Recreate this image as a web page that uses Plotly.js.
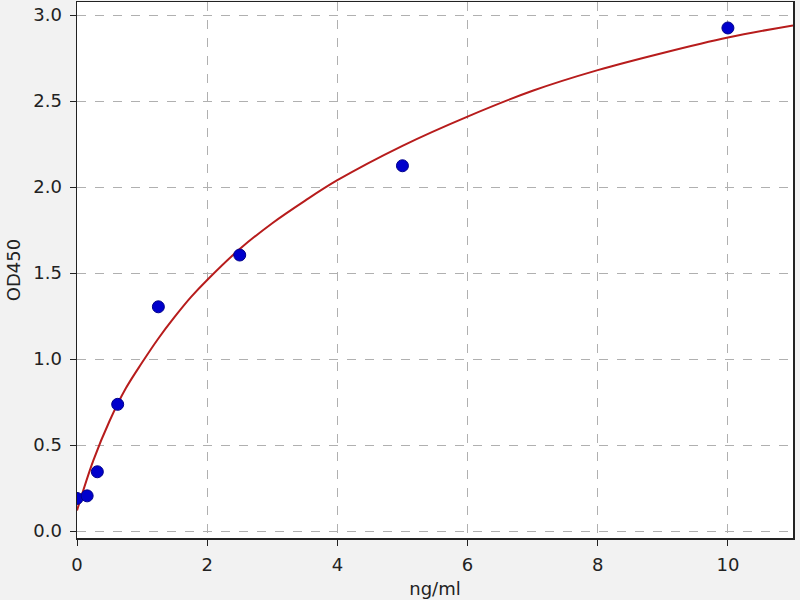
<!DOCTYPE html>
<html>
<head>
<meta charset="utf-8">
<script src="https://cdn.plot.ly/plotly-3.0.1.min.js"></script>
<style>
  html, body { margin: 0; padding: 0; background: #f2f2f2; }
  #chart { width: 800px; height: 600px; }
</style>
</head>
<body>
<div id="chart"></div>
<script>
// standard points (concentration vs OD)
var conc = [0, 0.156, 0.3125, 0.625, 1.25, 2.5, 5, 10];
var od = [0.19, 0.205, 0.345, 0.737, 1.304, 1.605, 2.124, 2.925];

// fitted curve
var fitX = [0, 0.25, 0.5, 0.75, 1, 1.25, 1.5, 1.75, 2, 2.5, 3, 3.5, 4, 5, 6, 7, 8, 9, 10, 11];
var fitY = [0.12, 0.41, 0.64, 0.83, 0.98, 1.12, 1.245, 1.36, 1.46, 1.64, 1.79, 1.92, 2.04, 2.24, 2.41, 2.56, 2.68, 2.78, 2.87, 2.94];

var curve = {
  x: fitX,
  y: fitY,
  mode: 'lines',
  type: 'scatter',
  line: {color: '#b71c1c', width: 2, shape: 'spline', smoothing: 1},
  hoverinfo: 'skip'
};
var points = {
  x: conc,
  y: od,
  mode: 'markers',
  type: 'scatter',
  cliponaxis: true,
  marker: {color: '#0000cc', size: 12, line: {color: '#00008b', width: 1}}
};

var axisFont = {family: 'DejaVu Sans, sans-serif', size: 18, color: '#222'};

var layout = {
  width: 800,
  height: 600,
  showlegend: false,
  paper_bgcolor: '#f2f2f2',
  plot_bgcolor: '#ffffff',
  margin: {l: 77, r: 7, t: 2, b: 62},
  font: axisFont,
  xaxis: {
    range: [0, 11],
    tickvals: [0, 2, 4, 6, 8, 10],
    ticks: 'outside',
    ticklen: 6,
    tickcolor: '#222',
    ticklabelstandoff: 4,
    showline: true,
    linecolor: '#222',
    linewidth: 1.5,
    mirror: true,
    showgrid: true,
    gridcolor: '#b0b0b0',
    griddash: 'dash',
    gridwidth: 1,
    zeroline: false,
    tickfont: axisFont,
    title: {text: 'ng/ml', font: axisFont, standoff: 8}
  },
  yaxis: {
    range: [-0.04, 3.076],
    tickvals: [0, 0.5, 1, 1.5, 2, 2.5, 3],
    ticktext: ['0.0', '0.5', '1.0', '1.5', '2.0', '2.5', '3.0'],
    ticks: 'outside',
    ticklen: 6,
    tickcolor: '#222',
    ticklabelstandoff: 4,
    showline: true,
    linecolor: '#222',
    linewidth: 1.5,
    mirror: true,
    showgrid: true,
    gridcolor: '#b0b0b0',
    griddash: 'dash',
    gridwidth: 1,
    zeroline: false,
    tickfont: axisFont,
    title: {text: 'OD450', font: axisFont, standoff: 8}
  }
};

Plotly.newPlot('chart', [curve, points], layout, {staticPlot: true});
</script>
</body>
</html>
